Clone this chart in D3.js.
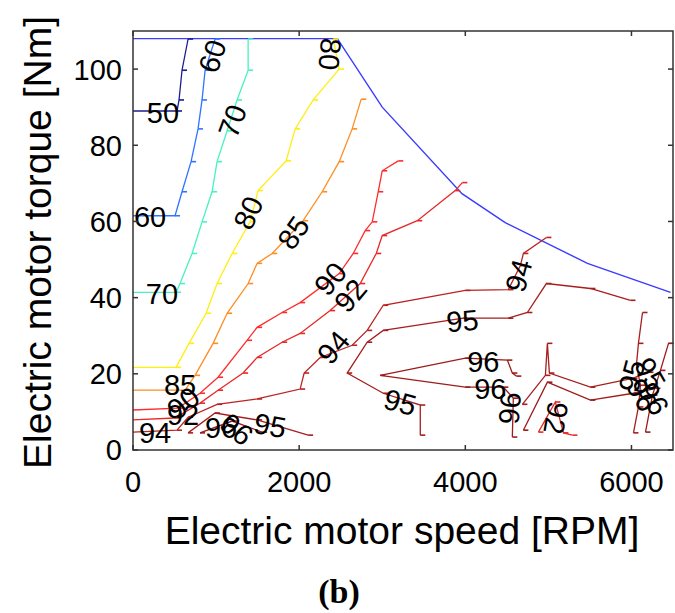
<!DOCTYPE html>
<html>
<head>
<meta charset="utf-8">
<script src="https://cdn.jsdelivr.net/npm/d3@7"></script>
<style>
  body { margin: 0; background: #fff; }
  text { font-family: "Liberation Sans", Arial, sans-serif; }
</style>
</head>
<body>
<div id="chart"></div>
<script>
// speed [RPM], torque [Nm]
const xTicks = [0, 2000, 4000, 6000];
const yTicks = [0, 20, 40, 60, 80, 100];

const maxTorque = [[0,108],[2460,108],[3000,90],[3960,67.3],[4480,59.7],[5470,49],[6470,41.4]];

const eff50 = [[0,89],[530,89],[554,91.9],[590,99.7],[663,107.9]];
const eff60 = [[0,61.5],[506,61.5],[590,67.8],[699,75.7],[783,84.3],[831,91.9],[868,99.7],[988,107.9]];
const eff70 = [[0,41.4],[518,41.4],[566,43.7],[711,51.6],[831,59.9],[952,67.8],[1012,75.7],[1133,83.8],[1253,91.9],[1386,99.7],[1386,107.9]];
const eff80 = [[0,21.7],[518,21.7],[675,28],[880,35.9],[1012,43.7],[1193,51.6],[1410,59.9],[1506,68.1],[1843,75.9],[1952,84.3],[2169,91.9],[2482,100],[2410,107.9]];
const eff85 = [[0,15.7],[627,15.7],[747,19.6],[964,28],[1133,35.9],[1386,43.7],[1494,49],[1675,51.6],[2048,60.2],[2277,67.8],[2482,75.7],[2638,84.3],[2747,92.1]];
const eff90 = [[0,10.5],[542,11],[807,14.9],[1024,19.1],[1373,28.8],[1494,32.2],[1795,36.1],[2012,38.7],[2482,46.3],[2651,51.6],[2795,57.6],[2880,59.9],[2952,67.8],[3000,73.3],[3193,75.9]];
const eff92 = [[0,7.9],[506,8.4],[807,12.3],[1024,15.7],[1325,20.2],[1494,24.3],[1795,28.3],[2012,30.6],[2373,36.6],[2735,43.7],[2928,51.6],[3000,56.3],[3422,60.2],[3879,68.1],[3964,70.2]];
const eff92b = [[4880,4.7],[5084,12.6],[5181,4.5],[5289,3.9]];
const eff94 = [[0,4.7],[530,5.2],[663,8.6],[1012,12],[1494,13.4],[2012,16],[2060,20.2],[2253,24.3],[2638,27.5],[2819,31.4],[3012,38],[4000,41.9],[4518,42.1],[4663,48.4],[4699,51.6],[4976,55.8]];
const eff95a = [[5988,39.3],[5506,42.4],[4976,43.7],[4747,36.1],[4518,34.6],[3976,34.6],[3012,31.4],[2819,28.3],[2578,20.2],[3012,14.9],[3458,11.8],[3458,3.9]];
const eff95b = [[663,4.5],[988,9.7],[1494,7.9],[2108,3.9]];
const eff95c = [[4687,12],[4964,19.6],[4988,28],[5012,20.2],[5506,16.5],[6012,18.8],[6205,20.4]];
const eff95d = [[6133,36.1],[6084,28],[6060,22.3],[6108,17],[6084,11.3],[6024,4.5]];
const eff96a = [[4614,19.4],[4566,20.2],[4506,23.6],[4000,24.1],[2976,19.6],[4000,16.5],[4458,16.5],[4578,13.6],[4566,3.4]];
const eff96b = [[807,4.5],[1193,7.6],[1554,4.7]];
const eff96c = [[4699,5.2],[4988,17.8],[5506,13.1],[6024,14.9],[6289,16.2]];
const eff96d = [[6506,28],[6446,28],[6349,20.9],[6253,14.4],[6169,4.7]];

// label text, speed, torque, angle
const labels = [
  ["50", 361, 88.5, 0], ["60", 952, 103.4, -72], ["60", 205, 61.3, 0],
  ["70", 1193, 86.4, -70], ["70", 349, 41.1, 0],
  ["80", 2373, 103.9, 95], ["80", 1386, 62.3, -65],
  ["85", 1928, 57.1, -55], ["85", 566, 17.2, 0],
  ["90", 2373, 45, -50], ["92", 2614, 40.6, -50],
  ["90", 602, 12.4, -40], ["92", 602, 9.4, 0],
  ["94", 265, 4.7, 0], ["94", 2410, 27, -50], ["94", 4639, 45.8, -75],
  ["95", 3964, 34, -5], ["95", 3217, 12.6, 15], ["95", 1651, 6.5, 10],
  ["96", 1060, 5.8, 0], ["96", 1250, 5.5, 40],
  ["96", 4217, 23.3, 0], ["96", 4301, 16.2, 0], ["96", 4542, 11, 95],
  ["92", 5096, 8.4, 100],
  ["95", 6000, 19.5, -75], ["95", 6230, 20, 60], ["96", 6130, 14.5, 60], ["96", 6270, 13.5, 60]
];

const contours = [
  { level: 50, pts: eff50 }, { level: 60, pts: eff60 }, { level: 70, pts: eff70 },
  { level: 80, pts: eff80 }, { level: 85, pts: eff85 }, { level: 90, pts: eff90 },
  { level: 92, pts: eff92 }, { level: 92, pts: eff92b }, { level: 94, pts: eff94 },
  { level: 95, pts: eff95a }, { level: 95, pts: eff95b }, { level: 95, pts: eff95c }, { level: 95, pts: eff95d },
  { level: 96, pts: eff96a }, { level: 96, pts: eff96b }, { level: 96, pts: eff96c }, { level: 96, pts: eff96d }
];

const levelColor = {
  50: "#1c1c8c", 60: "#2f74ff", 70: "#48f2c0", 80: "#ffee12", 85: "#ff8c22",
  90: "#ff2c2c", 92: "#e82828", 94: "#bb2222", 95: "#a61e1e", 96: "#9c1c1c"
};

const width = 675, height = 613;
const margin = { top: 31, right: 2, bottom: 163, left: 133 };

const x = d3.scaleLinear().domain([0, 6500]).range([margin.left, width - margin.right]);
const y = d3.scaleLinear().domain([0, 110]).range([height - margin.bottom, margin.top]);

const svg = d3.select("#chart").append("svg")
  .attr("width", width)
  .attr("height", height);

const line = d3.line().x(d => x(d[0])).y(d => y(d[1]));

// max torque envelope
svg.append("path")
  .datum(maxTorque)
  .attr("d", line)
  .attr("fill", "none")
  .attr("stroke", "#3b3bff")
  .attr("stroke-width", 1.4);

// efficiency contours
const cg = svg.append("g");
contours.forEach(c => {
  cg.append("path")
    .datum(c.pts)
    .attr("d", line)
    .attr("fill", "none")
    .attr("stroke", levelColor[c.level])
    .attr("stroke-width", 1.3);
  // small markers at vertices
  cg.selectAll(null)
    .data(c.pts.filter(d => d[0] > 0 && d[0] < 6450))
    .enter().append("line")
    .attr("x1", d => x(d[0]))
    .attr("x2", d => x(d[0]) + 5)
    .attr("y1", d => y(d[1]))
    .attr("y2", d => y(d[1]))
    .attr("stroke", levelColor[c.level])
    .attr("stroke-width", 1.6);
});

// contour labels
svg.append("g").selectAll("text")
  .data(labels)
  .enter().append("text")
  .attr("transform", d => `translate(${x(d[1])},${y(d[2])}) rotate(${d[3]})`)
  .attr("text-anchor", "middle")
  .attr("dy", "0.36em")
  .style("font-size", "29px")
  .style("fill", "#000")
  .text(d => d[0]);

// axes box with inward ticks
const x0 = x.range()[0], x1 = x.range()[1], y0 = y.range()[0], y1 = y.range()[1];
svg.append("rect")
  .attr("x", x0).attr("y", y1)
  .attr("width", x1 - x0).attr("height", y0 - y1)
  .attr("fill", "none")
  .attr("stroke", "#333")
  .attr("stroke-width", 1.5);

const tk = 5;
xTicks.forEach(t => {
  svg.append("line").attr("x1", x(t)).attr("x2", x(t)).attr("y1", y0).attr("y2", y0 - tk).attr("stroke", "#333").attr("stroke-width", 1.5);
  svg.append("line").attr("x1", x(t)).attr("x2", x(t)).attr("y1", y1).attr("y2", y1 + tk).attr("stroke", "#333").attr("stroke-width", 1.5);
});
yTicks.forEach(t => {
  svg.append("line").attr("x1", x0).attr("x2", x0 + tk).attr("y1", y(t)).attr("y2", y(t)).attr("stroke", "#333").attr("stroke-width", 1.5);
  svg.append("line").attr("x1", x1).attr("x2", x1 - tk).attr("y1", y(t)).attr("y2", y(t)).attr("stroke", "#333").attr("stroke-width", 1.5);
});

svg.append("g").selectAll("text")
  .data(xTicks)
  .enter().append("text")
  .attr("x", d => x(d))
  .attr("y", y0 + 42)
  .attr("text-anchor", "middle")
  .style("font-size", "29px")
  .text(d => d);

svg.append("g").selectAll("text")
  .data(yTicks)
  .enter().append("text")
  .attr("x", x0 - 11)
  .attr("y", d => y(d))
  .attr("dy", "0.36em")
  .attr("text-anchor", "end")
  .style("font-size", "29px")
  .text(d => d);

svg.append("text")
  .attr("x", 402)
  .attr("y", 544)
  .attr("text-anchor", "middle")
  .style("font-size", "39px")
  .text("Electric motor speed [RPM]");

svg.append("text")
  .attr("transform", `translate(51,${(y0 + y1) / 2 + 2}) rotate(-90)`)
  .attr("text-anchor", "middle")
  .style("font-size", "39px")
  .text("Electric motor torque [Nm]");

svg.append("text")
  .attr("x", 339)
  .attr("y", 603)
  .attr("text-anchor", "middle")
  .style("font-family", "'Liberation Serif', 'Times New Roman', serif")
  .style("font-weight", "bold")
  .style("font-size", "34px")
  .text("(b)");
</script>
</body>
</html>
